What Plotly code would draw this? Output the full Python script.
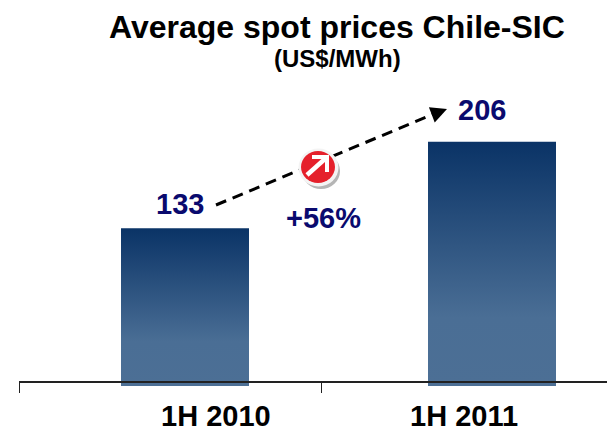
import plotly.graph_objects as go

periods = ["1H 2010", "1H 2011"]
prices = [133, 206]
title = "Average spot prices Chile-SIC"
subtitle = "(US$/MWh)"
growth = "+56%"

W, H = 607, 428
L, BASE = 19, 386
AXIS_Y = 382
NAVY = "#0A0A6E"
FONT = "Liberation Sans, Arial, sans-serif"

def px(x):
    return (x - L) / (W - L)

def py(y):
    return (BASE - y) / BASE

def path(points, close=False):
    s = "M" + " L".join(f"{px(x):.5f},{py(y):.5f}" for x, y in points)
    return s + (" Z" if close else "")

def text(x, y, s, size, color="#000000"):
    return dict(x=px(x), y=py(y), xref="paper", yref="paper", text=f"<b>{s}</b>",
                showarrow=False, xanchor="center", yanchor="middle",
                font=dict(family=FONT, size=size, color=color))

def ellipse(cx, cy, rx, ry, color):
    return dict(type="circle", xref="paper", yref="paper", x0=px(cx - rx), x1=px(cx + rx),
                y0=py(cy + ry), y1=py(cy - ry), fillcolor=color, line=dict(width=0))

fig = go.Figure(go.Bar(x=[0, 1], y=prices, width=128 / 307, marker=dict(color="#2C5280", line=dict(width=0)),
                       hoverinfo="skip"))

line_shape = dict(type="path", xref="paper", yref="paper", path=path([(216, 205), (436, 113)]),
                  line=dict(color="#000000", width=3, dash="11px,7px"))
arrow_shape = dict(type="path", xref="paper", yref="paper",
                   path=path([(307, 175), (326, 158)]), line=dict(color="#FFFFFF", width=4.5))
head_shape = dict(type="path", xref="paper", yref="paper",
                  path=path([(312, 157), (327, 157), (327, 172)]), line=dict(color="#FFFFFF", width=4))

fig.update_layout(
    width=W, height=H, margin=dict(l=L, r=0, t=0, b=H - BASE),
    paper_bgcolor="#FFFFFF", plot_bgcolor="#FFFFFF", showlegend=False,
    xaxis=dict(range=[(L - 185) / 307, (W - 185) / 307], tickvals=[(19 - 185) / 307, (321 - 185) / 307],
               ticktext=["", ""], ticks="outside", ticklen=10, tickwidth=1, tickcolor="#222222",
               anchor="free", position=(BASE - AXIS_Y) / BASE,
               showline=True, linecolor="#222222", linewidth=1.5, showgrid=False, zeroline=False),
    yaxis=dict(range=[0, BASE / 1.186], visible=False, showgrid=False, zeroline=False),
    shapes=[line_shape,
            ellipse(321, 171, 19, 18, "#B5B5B5"),
            ellipse(318.5, 167.5, 20, 19, "#F4F4F4"),
            ellipse(318, 167, 17, 16, "#E5202B"),
            arrow_shape, head_shape],
    annotations=[
        text(337, 27, title, 32),
        text(337, 59, subtitle, 24),
        text(180, 204, prices[0], 29, NAVY),
        text(482, 110, prices[1], 29, NAVY),
        text(323, 218, growth, 29, NAVY),
        text(216, 415.5, periods[0], 29),
        text(464, 415.5, periods[1], 29),
        dict(x=px(447), y=py(109), xref="paper", yref="paper", ax=-11, ay=4.2,
             text="", showarrow=True, arrowhead=2, arrowsize=1.3,
             arrowwidth=2.5, arrowcolor="#000000"),
    ],
)

gradient_js = """
document.body.style.margin = '0';
var svg = document.querySelector('.main-svg');
var ns = 'http://www.w3.org/2000/svg';
var g = document.createElementNS(ns, 'linearGradient');
g.setAttribute('id', 'barfade'); g.setAttribute('x1', '0'); g.setAttribute('y1', '0');
g.setAttribute('x2', '0'); g.setAttribute('y2', '1');
[[0, '#0A3366'], [0.72, '#4A6E95'], [1, '#4C6F95']].forEach(function (s) {
  var e = document.createElementNS(ns, 'stop');
  e.setAttribute('offset', s[0]); e.setAttribute('stop-color', s[1]); g.appendChild(e);
});
svg.querySelector('defs').appendChild(g);
document.querySelectorAll('.bars .point path').forEach(function (p) {
  p.style.fill = 'url(#barfade)';
});
"""

fig.write_html("out.html", post_script=gradient_js, config={"displayModeBar": False})
